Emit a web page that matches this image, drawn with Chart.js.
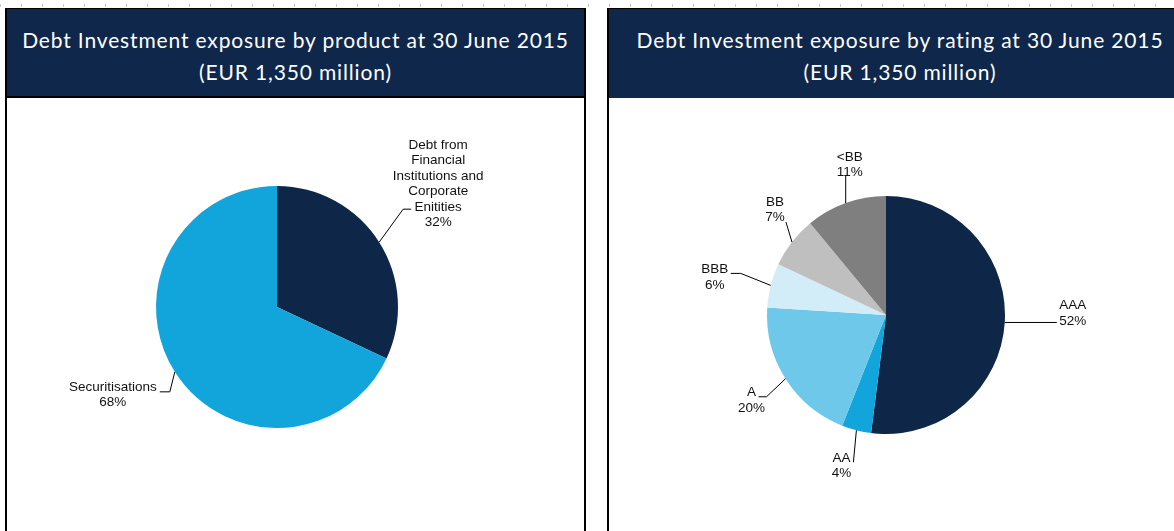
<!DOCTYPE html>
<html>
<head>
<meta charset="utf-8">
<script src="https://cdn.jsdelivr.net/npm/chart.js@4"></script>
<style>
  html, body { margin: 0; padding: 0; background: #fff; }
  body { width: 1174px; height: 531px; position: relative; overflow: hidden; }
  .ticks { position: absolute; top: 4px; left: 0; width: 1174px; height: 3px;
           background: repeating-linear-gradient(to right, #c8c8c8 0 1px, transparent 1px 21px); }
  .panel { position: absolute; top: 8px; height: 540px; box-sizing: border-box;
           border-left: 2px solid #000; border-right: 2px solid #000; background: #fff; }
  .panel .head { height: 90px; box-sizing: border-box; background: #0f274a; color: #fff;
                 font-family: Lato, "Open Sans", sans-serif; font-size: 21px; line-height: 32px;
                 letter-spacing: 0.85px; text-align: center; padding-top: 15px; border-top: 1px solid #000; }
  #left { left: 5px; width: 581px; }
  #left .head { border-bottom: 2px solid #000; }
  #right { left: 607px; width: 584px; border-right: none; }
  canvas { position: absolute; left: 0; }
</style>
</head>
<body>
<div class="ticks"></div>
<div class="panel" id="left">
  <div class="head">Debt Investment exposure by product at 30 June 2015<br>(EUR 1,350 million)</div>
  <canvas id="chartProduct" width="577" height="433" style="top:90px"></canvas>
</div>
<div class="panel" id="right">
  <div class="head">Debt Investment exposure by rating at 30 June 2015<br>(EUR 1,350 million)</div>
  <canvas id="chartRating" width="566" height="433" style="top:90px"></canvas>
</div>
<script>
// exposure by product (% of EUR 1,350 million)
const productLabels = [
  ['Debt from', 'Financial', 'Institutions and', 'Corporate', 'Enitities'],
  ['Securitisations']
];
const productValues = [32, 68];
const productColors = ['#0e2749', '#12a5dc'];

// exposure by rating (%)
const ratingLabels = ['AAA', 'AA', 'A', 'BBB', 'BB', '<BB'];
const ratingValues = [52, 4, 20, 6, 7, 11];
const ratingColors = ['#0e2749', '#12a5dc', '#6dc8ea', '#d2edf8', '#bfbfbf', '#7f7f7f'];

// leader line offsets from the slice edge, tick length, text offset
const productCallouts = [
  { dx: 24, dy: -33, h: 8, tx: 27, ty: -64 },
  { dx: -5, dy: 20, h: -10, tx: -47, ty: -5 }
];
const ratingCallouts = [
  { dx: 0, dy: 0, h: 52, tx: 16, ty: -17 },
  { dx: -3, dy: 32, h: 0, tx: -12, ty: -4 },
  { dx: -19, dy: 18, h: -8, tx: -7, ty: -4 },
  { dx: -30, dy: -12, h: -10, tx: -16, ty: -4 },
  { dx: -6, dy: -20, h: 0, tx: -11, ty: -20 },
  { dx: 0, dy: -28, h: 0, tx: 4, ty: -18 }
];

const calloutPlugin = {
  id: 'callouts',
  afterDatasetsDraw(chart, args, opts) {
    const ctx = chart.ctx;
    const meta = chart.getDatasetMeta(0);
    const data = chart.data.datasets[0].data;
    const total = data.reduce((a, b) => a + b, 0);
    ctx.save();
    ctx.strokeStyle = '#000';
    ctx.lineWidth = 1;
    ctx.fillStyle = '#111';
    ctx.font = '13.5px "Liberation Sans", Arial, sans-serif';
    ctx.textAlign = 'center';
    ctx.textBaseline = 'middle';
    meta.data.forEach((arc, i) => {
      const p = arc.getProps(['x', 'y', 'startAngle', 'endAngle', 'outerRadius'], true);
      const mid = (p.startAngle + p.endAngle) / 2;
      const ex = p.x + Math.cos(mid) * p.outerRadius;
      const ey = p.y + Math.sin(mid) * p.outerRadius;
      const c = opts.layout[i];
      const bx = ex + c.dx, by = ey + c.dy;
      const hx = bx + c.h;
      ctx.beginPath();
      ctx.moveTo(ex, ey);
      ctx.lineTo(bx, by);
      ctx.lineTo(hx, by);
      ctx.stroke();
      const lines = [].concat(chart.data.labels[i], Math.round(data[i] / total * 100) + '%');
      lines.forEach((t, k) => ctx.fillText(t, hx + c.tx, by + c.ty + k * 15.5));
    });
    ctx.restore();
  }
};

function makePie(id, labels, values, colors, callouts, padding) {
  new Chart(document.getElementById(id).getContext('2d'), {
    type: 'pie',
    data: {
      labels: labels,
      datasets: [{ data: values, backgroundColor: colors, borderWidth: 0 }]
    },
    options: {
      responsive: false,
      animation: false,
      events: [],
      layout: { padding: padding },
      plugins: {
        legend: { display: false },
        tooltip: { enabled: false },
        callouts: { layout: callouts }
      }
    },
    plugins: [calloutPlugin]
  });
}

makePie('chartProduct', productLabels, productValues, productColors, productCallouts,
  { left: 149, top: 88, right: 186, bottom: 103 });
makePie('chartRating', ratingLabels, ratingValues, ratingColors, ratingCallouts,
  { left: 158, top: 98, right: 170, bottom: 97 });
</script>
</body>
</html>
